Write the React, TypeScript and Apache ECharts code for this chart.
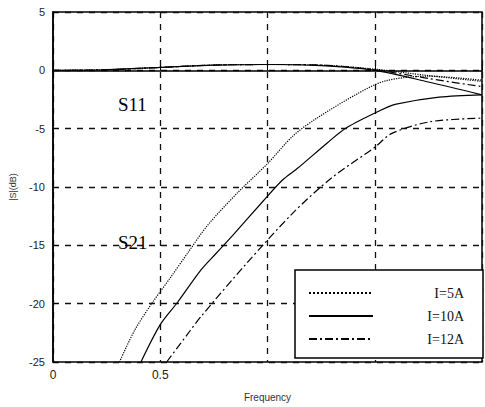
import React, { useEffect, useRef } from "react";
import * as echarts from "echarts";

// S11 (reflection) curves, shared frequency grid (GHz)
const s11Freq = [0, 0.25, 0.5, 0.75, 1.0, 1.25, 1.5, 1.75, 2.0];
const s11_5A = [0, 0.05, 0.25, 0.45, 0.5, 0.45, 0.1, -0.45, -0.95];
const s11_10A = [0, 0.05, 0.25, 0.45, 0.5, 0.4, 0.0, -1.0, -2.1];
const s11_12A = [0, 0.05, 0.25, 0.45, 0.5, 0.45, 0.05, -0.7, -1.4];

// S21 (transmission) curves
const s21Freq_5A = [0.31, 0.38, 0.46, 0.55, 0.63, 0.72, 0.86, 1.0, 1.12, 1.23, 1.42, 1.55, 1.75, 2.0];
const s21_5A = [-25, -22.3, -20.0, -17.7, -15.6, -13.3, -10.5, -8.0, -5.6, -4.1, -2.0, -0.9, -0.5, -0.85];
const s21Freq_10A = [0.41, 0.5, 0.58, 0.69, 0.76, 0.84, 0.98, 1.07, 1.14, 1.28, 1.37, 1.53, 1.6, 1.8, 2.0];
const s21_10A = [-25, -21.8, -19.9, -17.1, -15.7, -14.1, -11.2, -9.4, -8.4, -6.2, -4.9, -3.4, -2.9, -2.3, -2.1];
const s21Freq_12A = [0.53, 0.64, 0.69, 0.9, 1.12, 1.3, 1.5, 1.58, 1.76, 2.0];
const s21_12A = [-25, -22.3, -21.1, -16.6, -12.2, -9.2, -6.6, -5.4, -4.4, -4.1];

const xTickLabels = ["0", "0.5"];
const legendNames = ["I=5A", "I=10A", "I=12A"];

const pairs = (xs: number[], ys: number[]) => xs.map((x, i) => [x, ys[i]]);

export default function App() {
  const ref = useRef<HTMLDivElement>(null);
  useEffect(() => {
    if (!ref.current) return;
    const chart = echarts.init(ref.current, undefined, { renderer: "svg" });
    const styles: any[] = [
      { type: "dotted", width: 1.2 },
      { type: "solid", width: 1.2 },
      { type: [8, 3, 2, 3], width: 1.2 },
    ];
    const mk = (name: string, data: number[][], style: any) => ({
      name,
      type: "line",
      data,
      showSymbol: false,
      symbol: "none",
      smooth: 0.3,
      lineStyle: { color: "#000", ...style },
      itemStyle: { color: "#000" },
      clip: true,
    });
    chart.setOption({
      animation: false,
      backgroundColor: "#fff",
      grid: {
        left: 52,
        right: 2,
        top: 12,
        bottom: 43,
        show: true,
        borderColor: "#000",
        borderWidth: 1.5,
      },
      xAxis: {
        type: "value",
        min: 0,
        max: 2,
        interval: 0.5,
        name: "Frequency",
        nameLocation: "middle",
        nameGap: 30,
        nameTextStyle: { fontFamily: "Arial, Liberation Sans, sans-serif", fontSize: 10, color: "#333" },
        axisLine: { show: true, lineStyle: { color: "#000", width: 1.5 } },
        axisTick: { show: true, inside: true, length: 5, lineStyle: { color: "#000" } },
        axisLabel: {
          color: "#222",
          fontSize: 12,
          fontFamily: "Arial, Liberation Sans, sans-serif",
          margin: 7,
          formatter: (v: number) => {
            const s = String(v);
            return xTickLabels.includes(s) ? s : "";
          },
        },
        splitLine: { show: true, lineStyle: { color: "#111", type: [6, 6], width: 1.3 } },
      },
      yAxis: {
        type: "value",
        min: -25,
        max: 5,
        interval: 5,
        name: "|S|(dB)",
        nameLocation: "middle",
        nameGap: 36,
        nameRotate: 90,
        nameTextStyle: { fontFamily: "Arial, Liberation Sans, sans-serif", fontSize: 9, color: "#333" },
        axisLine: { show: true, lineStyle: { color: "#000", width: 1.5 } },
        axisTick: { show: true, inside: true, length: 5, lineStyle: { color: "#000" } },
        axisLabel: {
          color: "#222",
          fontSize: 11,
          fontFamily: "Arial, Liberation Sans, sans-serif",
          margin: 8,
        },
        splitLine: { show: true, lineStyle: { color: "#111", type: [6, 6], width: 1.3 } },
      },
      legend: {
        data: legendNames,
        orient: "vertical",
        left: 295,
        top: 270,
        padding: [16, 19, 12, 13],
        itemGap: 9,
        itemWidth: 64,
        itemHeight: 14,
        backgroundColor: "#fff",
        borderColor: "#000",
        borderWidth: 1.5,
        borderRadius: 0,
        itemStyle: { opacity: 0, borderWidth: 0 },
        formatter: (name: string) => `{a|${name}}`,
        textStyle: {
          color: "#111",
          fontFamily: "Liberation Serif, Times New Roman, serif",
          fontSize: 14,
          rich: { a: { width: 86, align: "right", fontSize: 14, fontFamily: "Liberation Serif, serif", color: "#111" } },
        },
      },
      graphic: [
        {
          type: "text",
          left: 118,
          top: 95,
          style: { text: "S11", fontFamily: "Liberation Serif, Times New Roman, serif", fontSize: 19, fill: "#000" },
          z: 100,
        },
        {
          type: "text",
          left: 118,
          top: 233,
          style: { text: "S21", fontFamily: "Liberation Serif, Times New Roman, serif", fontSize: 19, fill: "#000" },
          z: 100,
        },
      ],
      series: [
        mk("I=5A", pairs(s11Freq, s11_5A), styles[0]),
        mk("I=10A", pairs(s11Freq, s11_10A), styles[1]),
        mk("I=12A", pairs(s11Freq, s11_12A), styles[2]),
        mk("I=5A", pairs(s21Freq_5A, s21_5A), styles[0]),
        mk("I=10A", pairs(s21Freq_10A, s21_10A), styles[1]),
        mk("I=12A", pairs(s21Freq_12A, s21_12A), styles[2]),
      ],
    });
    return () => chart.dispose();
  }, []);
  return (
    <div
      ref={ref}
      style={{ position: "absolute", left: 0, top: 0, width: 485, height: 407 }}
    />
  );
}
